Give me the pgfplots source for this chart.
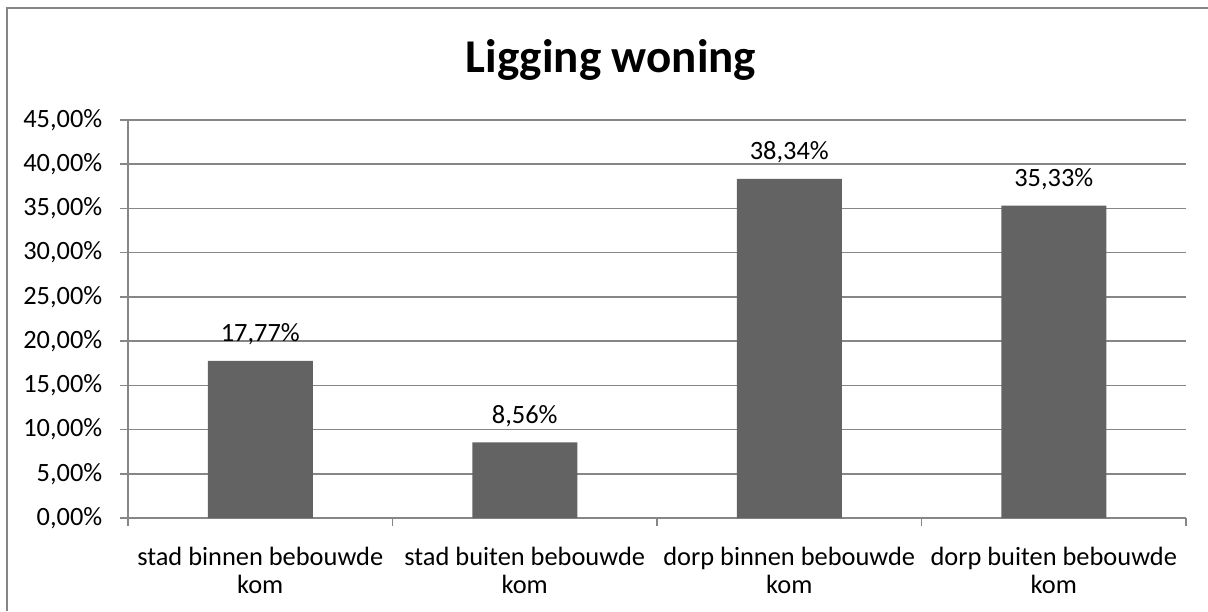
\documentclass[border=0pt]{standalone}
\usepackage{pgfplots}
\pgfplotsset{compat=1.18}
\usepackage{fontspec}
\setmainfont{Carlito}
\definecolor{bargray}{RGB}{99,99,99}
\definecolor{gridgray}{RGB}{134,134,134}
\begin{document}
\begin{tikzpicture}
\useasboundingbox (0,0) rectangle (604pt,305.5pt);
\draw[gridgray, line width=1pt] (3.5pt,0) -- (3.5pt,301.65pt) -- (604pt,301.65pt);
\node[anchor=base, font=\fontsize{23.5}{28}\selectfont\bfseries] at (305.5pt,269pt) {Ligging woning};
\begin{axis}[
  at={(64pt,46.5pt)}, anchor=south west,
  scale only axis, width=529pt, height=199pt,
  xmin=-0.5, xmax=3.5, ymin=0, ymax=45,
  axis x line*=bottom, axis y line*=left,
  axis line style={gridgray, line width=0.75pt, -},
  ymajorgrids, grid style={gridgray, line width=0.75pt},
  tick align=outside, major tick length=4pt,
  tick style={gridgray, line width=0.75pt},
  ytick={0,5,...,45},
  yticklabels={{0,00\%},{5,00\%},{10,00\%},{15,00\%},{20,00\%},{25,00\%},{30,00\%},{35,00\%},{40,00\%},{45,00\%}},
  yticklabel style={anchor=east, inner sep=0pt, xshift=-8.65pt, font=\fontsize{13.2}{15}\selectfont},
  xtick={0,1,2,3},
  xticklabels={{stad binnen bebouwde\\kom},{stad buiten bebouwde\\kom},{dorp binnen bebouwde\\kom},{dorp buiten bebouwde\\kom}},
  xticklabel style={align=center, anchor=north, inner sep=0pt, yshift=-10.6pt, font=\fontsize{13.2}{14}\selectfont},
  major x tick style={draw=none},
  extra x ticks={-0.5,0.5,1.5,2.5,3.5},
  extra x tick labels={},
  extra x tick style={grid=none, major x tick style={draw=gridgray}},
]
\addplot[ybar, bar width=52.5pt, fill=bargray, draw=none,
  point meta=explicit symbolic, nodes near coords,
  nodes near coords style={anchor=base, yshift=9.5pt, inner sep=0pt, text=black, font=\fontsize{13.2}{15}\selectfont}]
  coordinates {(0,17.77) [17,77\%] (1,8.56) [8,56\%] (2,38.34) [38,34\%] (3,35.33) [35,33\%]};
\end{axis}
\end{tikzpicture}
\end{document}
